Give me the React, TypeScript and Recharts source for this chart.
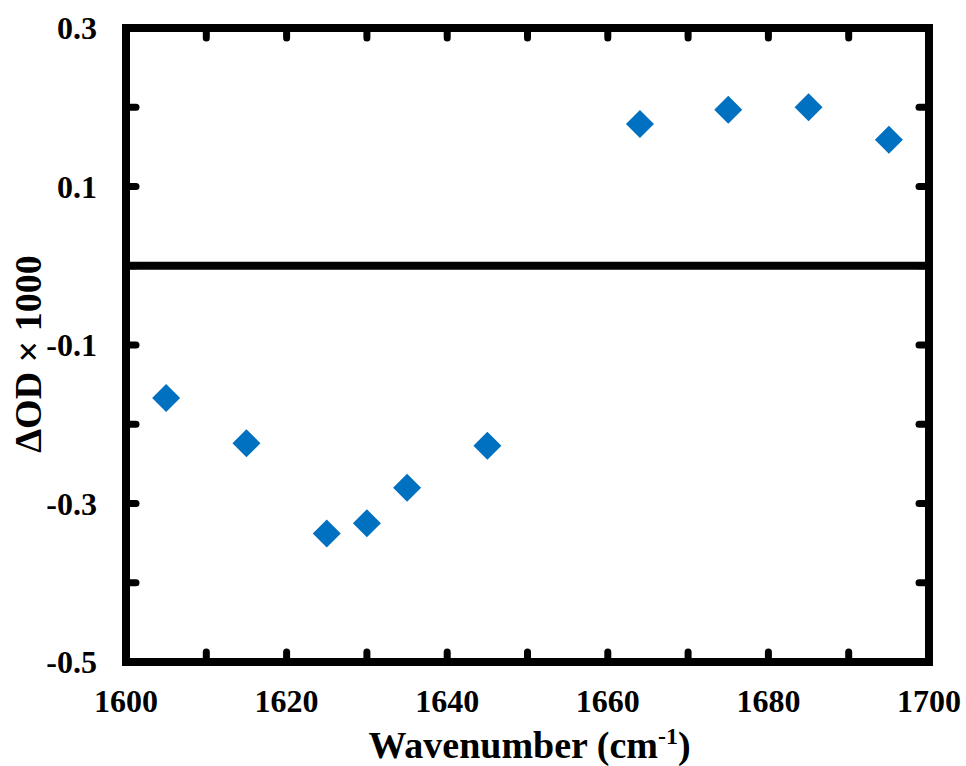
import { ScatterChart, Scatter, XAxis, YAxis, ReferenceLine } from 'recharts';

const wavenumbers = [1605, 1615, 1625, 1630, 1635, 1645, 1664, 1675, 1685, 1695];
const deltaOD = [-0.167, -0.224, -0.338, -0.325, -0.28, -0.227, 0.179, 0.197, 0.2, 0.159];

const xTicks = [1600, 1610, 1620, 1630, 1640, 1650, 1660, 1670, 1680, 1690, 1700];
const xLabelTicks = [1600, 1620, 1640, 1660, 1680, 1700];
const yTicks = [-0.5, -0.4, -0.3, -0.2, -0.1, 0, 0.1, 0.2, 0.3];
const yLabelTicks = [0.3, 0.1, -0.1, -0.3, -0.5];

const data = wavenumbers.map((w, i) => ({ x: w, y: deltaOD[i] }));

const FONT = '"Liberation Serif", "Times New Roman", serif';
const BLUE = '#0070C0';
const TICK_LEN = 10;

const axisLine = { stroke: '#000', strokeWidth: 8, strokeLinecap: 'square' as const };

function Diamond(props: any) {
  const { cx, cy } = props;
  if (cx == null || cy == null) return null;
  const r = 14;
  return (
    <polygon
      points={`${cx},${cy - r} ${cx + r},${cy} ${cx},${cy + r} ${cx - r},${cy}`}
      fill={BLUE}
    />
  );
}

// side: which edge of the frame the tick sits on; label only on bottom/left
function FrameTick(props: any) {
  const { x, y, payload, side } = props;
  const v = payload.value;
  let dx = 0;
  let dy = 0;
  if (side === 'bottom') dy = -TICK_LEN;
  if (side === 'top') dy = TICK_LEN;
  if (side === 'left') dx = TICK_LEN;
  if (side === 'right') dx = -TICK_LEN;
  let label: any = null;
  if (side === 'bottom' && xLabelTicks.includes(v)) {
    label = (
      <text x={x} y={y + 50} textAnchor="middle" fontFamily={FONT} fontSize={32} fontWeight={700} fill="#000">
        {v}
      </text>
    );
  }
  if (side === 'left' && yLabelTicks.includes(v)) {
    label = (
      <text x={x - 29} y={y + 11} textAnchor="end" fontFamily={FONT} fontSize={32} fontWeight={700} fill="#000">
        {v.toFixed(1)}
      </text>
    );
  }
  return (
    <g>
      <line x1={x} y1={y} x2={x + dx} y2={y + dy} stroke="#000" strokeWidth={7} strokeLinecap="round" />
      {label}
    </g>
  );
}

function XTitle(props: any) {
  const vb = props.viewBox || { x: 126, width: 803 };
  const cx = vb.x + vb.width / 2 + 2;
  return (
    <text x={cx} y={758} textAnchor="middle" fontFamily={FONT} fontSize={38} fontWeight={700} fill="#000">
      Wavenumber (cm
      <tspan dy={-14} fontSize={24}>-1</tspan>
      <tspan dy={14}>)</tspan>
    </text>
  );
}

function YTitle() {
  return (
    <text
      x={28}
      y={354}
      transform="rotate(-90 28 354)"
      textAnchor="middle"
      dominantBaseline="central"
      fontFamily={FONT}
      fontSize={38}
      fontWeight={700}
      fill="#000"
    >
      ΔOD × 1000
    </text>
  );
}

export default function App() {
  return (
    <div style={{ position: 'absolute', left: 0, top: 0, width: 966, height: 766, background: '#fff' }}>
      <ScatterChart width={966} height={766} margin={{ top: 8, right: 17, bottom: 44, left: 0 }}>
        <XAxis
          dataKey="x"
          type="number"
          domain={[1600, 1700]}
          ticks={xTicks}
          height={60}
          axisLine={axisLine}
          tickLine={false}
          tickSize={0}
          tickMargin={0}
          tick={<FrameTick side="bottom" />}
          interval={0}
          label={<XTitle />}
        />
        <XAxis
          xAxisId="top"
          dataKey="x"
          orientation="top"
          type="number"
          domain={[1600, 1700]}
          ticks={xTicks}
          height={20}
          axisLine={axisLine}
          tickLine={false}
          tickSize={0}
          tickMargin={0}
          tick={<FrameTick side="top" />}
          interval={0}
        />
        <YAxis
          dataKey="y"
          type="number"
          domain={[-0.5, 0.3]}
          ticks={yTicks}
          width={126}
          axisLine={axisLine}
          tickLine={false}
          tickSize={0}
          tickMargin={0}
          tick={<FrameTick side="left" />}
          interval={0}
          label={<YTitle />}
        />
        <YAxis
          yAxisId="right"
          dataKey="y"
          orientation="right"
          type="number"
          domain={[-0.5, 0.3]}
          ticks={yTicks}
          width={20}
          axisLine={axisLine}
          tickLine={false}
          tickSize={0}
          tickMargin={0}
          tick={<FrameTick side="right" />}
          interval={0}
        />
        <ReferenceLine y={0} stroke="#000" strokeWidth={8} />
        <Scatter data={data} shape={<Diamond />} isAnimationActive={false} />
        {/* invisible copy so the mirrored top/right axes get ticks */}
        <Scatter
          data={data}
          xAxisId="top"
          yAxisId="right"
          shape={() => <g />}
          legendType="none"
          isAnimationActive={false}
        />
      </ScatterChart>
    </div>
  );
}
